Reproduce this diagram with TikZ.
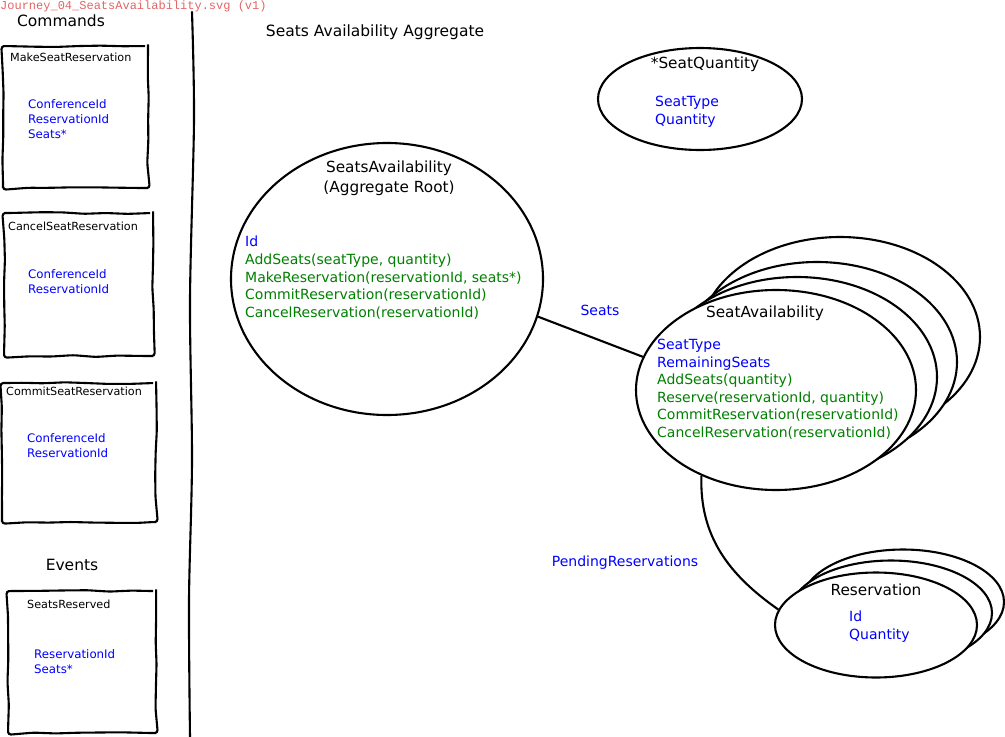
\documentclass[tikz,border=0pt]{standalone}
\usepackage{fontspec}
\setmainfont{DejaVu Sans}
\setmonofont{Liberation Mono}
\usetikzlibrary{shapes.geometric,decorations.pathmorphing}
\definecolor{fblue}{RGB}{0,0,255}
\definecolor{fgreen}{RGB}{0,128,0}
\definecolor{tred}{RGB}{228,100,100}
\begin{document}
\begin{tikzpicture}[x=1pt,y=-1pt,
  sketch/.style={line width=2.1pt, decorate, decoration={random steps,segment length=22pt,amplitude=0.9pt}, rounded corners=3pt},
  cmdbox/.style={sketch, draw, rectangle, anchor=north west, inner sep=0pt},
  blob/.style={line width=2.1pt, draw, fill=white, ellipse, inner sep=0pt},
  heading/.style={font=\fontsize{15.5}{20}\selectfont, inner sep=0pt},
  boxtitle/.style={font=\fontsize{11.2}{14}\selectfont, anchor=west, inner sep=0pt},
  fields/.style={font=\fontsize{11.8}{15}\selectfont, text=fblue, anchor=north west, align=left, inner sep=0pt},
  members/.style={font=\fontsize{14}{17.6}\selectfont, anchor=north west, align=left, inner sep=0pt},
  ename/.style={font=\fontsize{15.3}{20}\selectfont, inner sep=0pt, align=center},
  rel/.style={line width=2.1pt},
  rellabel/.style={font=\fontsize{14}{16}\selectfont, text=fblue, inner sep=0pt}]
\pgfmathsetseed{7}
\useasboundingbox[fill=white] (0,0) rectangle (1005,737);

% file title
\node[font=\ttfamily\fontsize{12}{14}\selectfont, text=tred, anchor=base west, inner sep=0pt] (ftitle) at (0,9) {Journey\_04\_SeatsAvailability.svg (v1)};

% headings
\node[heading] (hcmd) at (61,21) {Commands};
\node[heading] (hagg) at (375,32) {Seats Availability Aggregate};
\node[heading] (hev) at (72,565) {Events};

% divider
\coordinate (d1) at (192,12);
\coordinate (d2) at (194,120);
\coordinate (d3) at (190,300);
\coordinate (d4) at (192,460);
\coordinate (d5) at (189,600);
\coordinate (d6) at (190,737);
\draw[rel, line cap=round] plot[smooth] coordinates {(d1) (d2) (d3) (d4) (d5) (d6)};

% command boxes
\node[cmdbox, minimum width=145pt, minimum height=142pt] (bmake) at (2,45) {};
\node[boxtitle] (tmake) at (10,57) {MakeSeatReservation};
\node[fields] (fmake) at (28,99) {ConferenceId\\ReservationId\\Seats*};

\node[cmdbox, minimum width=149pt, minimum height=143pt] (bcancel) at (3,212) {};
\node[boxtitle] (tcancel) at (8,226) {CancelSeatReservation};
\node[fields] (fcancel) at (28,269) {ConferenceId\\ReservationId};

\node[cmdbox, minimum width=154pt, minimum height=139pt] (bcommit) at (1,382) {};
\node[boxtitle] (tcommit) at (6,391) {CommitSeatReservation};
\node[fields] (fcommit) at (27,433) {ConferenceId\\ReservationId};

\node[cmdbox, minimum width=148pt, minimum height=142pt] (bres) at (7,590) {};
\node[boxtitle] (tres) at (27,604) {SeatsReserved};
\node[fields] (fres) at (34,649) {ReservationId\\Seats*};

% SeatQuantity
\node[blob, minimum width=204pt, minimum height=102pt] (sq) at (700,99) {};
\node[ename] (tsq) at (705,64) {*SeatQuantity};
\node[members, text=fblue] (fsq) at (655,96) {SeatType\\Quantity};

% SeatsAvailability root
\node[blob, minimum width=312pt, minimum height=272pt] (sa) at (387,279) {};
\node[ename] (tsa) at (389,178) {SeatsAvailability\\(Aggregate Root)};
\node[members] (fsa) at (245,236) {\textcolor{fblue}{Id}\\
  \textcolor{fgreen}{AddSeats(seatType, quantity)}\\
  \textcolor{fgreen}{MakeReservation(reservationId, seats*)}\\
  \textcolor{fgreen}{CommitReservation(reservationId)}\\
  \textcolor{fgreen}{CancelReservation(reservationId)}};

% SeatAvailability stack
\node[blob, minimum width=280pt, minimum height=200pt] (seatc) at (840,337) {};
\node[blob, minimum width=280pt, minimum height=200pt] (seatb) at (817,362) {};
\node[blob, minimum width=280pt, minimum height=200pt] (seata) at (797,377) {};
\node[blob, minimum width=280pt, minimum height=200pt] (seat) at (776,390) {};
\node[ename] (tseat) at (765,313) {SeatAvailability};
\node[members] (fseat) at (657,339) {\textcolor{fblue}{SeatType}\\
  \textcolor{fblue}{RemainingSeats}\\
  \textcolor{fgreen}{AddSeats(quantity)}\\
  \textcolor{fgreen}{Reserve(reservationId, quantity)}\\
  \textcolor{fgreen}{CommitReservation(reservationId)}\\
  \textcolor{fgreen}{CancelReservation(reservationId)}};

% Reservation stack
\node[blob, minimum width=202pt, minimum height=105pt] (resvb) at (903,602) {};
\node[blob, minimum width=202pt, minimum height=105pt] (resva) at (891,613) {};
\node[blob, minimum width=202pt, minimum height=105pt] (resv) at (876,625) {};
\node[ename] (tresv) at (876,590) {Reservation};
\node[members, text=fblue] (fresv) at (849,611) {Id\\Quantity};

% connectors
\draw[rel] (sa.-14) -- (seat.166);
\node[rellabel] (lseats) at (600,310) {Seats};
\draw[rel] (seat.229) to[out=-92,in=145] (resv.171);
\node[rellabel] (lpend) at (625,563) {PendingReservations};
\end{tikzpicture}
\end{document}
